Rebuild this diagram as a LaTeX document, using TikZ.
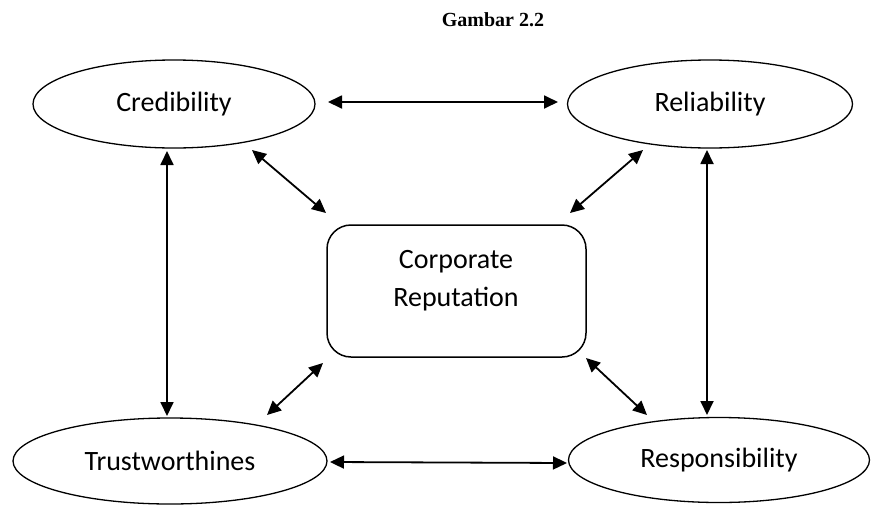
\documentclass[tikz,border=0pt]{standalone}
\usepackage{fontspec}
\setmainfont{Carlito}
\newfontfamily\titlefont{Liberation Serif}
\usetikzlibrary{shapes.geometric,arrows.meta}
\tikzset{
  oval/.style={draw, ellipse, line width=1.3pt, inner sep=0pt, font=\fontsize{28}{34}\selectfont},
  box/.style={draw, rounded corners=24pt, line width=1.5pt, inner sep=0pt},
  lbl/.style={font=\fontsize{28}{38}\selectfont, align=center},
  link/.style={line width=1.8pt, {Triangle[length=14pt,width=13pt]}-{Triangle[length=14pt,width=13pt]}},
}
\begin{document}
\begin{tikzpicture}[x=1pt,y=-1pt]
\useasboundingbox (0,0) rectangle (871,504);
\node[font=\titlefont\bfseries\fontsize{20}{24}\selectfont] (title) at (493,20) {Gambar 2.2};

\node[oval, minimum width=282pt, minimum height=88pt] (cred) at (174,104) {Credibility};
\node[oval, minimum width=285pt, minimum height=88pt] (rel) at (710,104) {Reliability};
\node[oval, minimum width=314pt, minimum height=86pt] (trust) at (170,461) {Trustworthines};
\node[oval, minimum width=301pt, minimum height=85pt] (resp) at (719,460) {Responsibility};

\node[box, minimum width=259pt, minimum height=132pt] (corp) at (456.5,291) {};
\node[lbl] (corptext) at (456,281) {Corporate\\Reputation};

% arrow end points
\coordinate (a1) at (328,102); \coordinate (a2) at (558,102);
\coordinate (b1) at (330,462); \coordinate (b2) at (567,463);
\coordinate (c1) at (167,151); \coordinate (c2) at (167,416);
\coordinate (d1) at (707,150); \coordinate (d2) at (707,415);
\coordinate (e1) at (252,150); \coordinate (e2) at (326,213);
\coordinate (f1) at (643,150); \coordinate (f2) at (570,213);
\coordinate (g1) at (323,363); \coordinate (g2) at (267,415);
\coordinate (h1) at (586,358); \coordinate (h2) at (647,415);

\draw[link] (a1) -- (a2);
\draw[link] (b1) -- (b2);
\draw[link] (c1) -- (c2);
\draw[link] (d1) -- (d2);
\draw[link] (e1) -- (e2);
\draw[link] (f1) -- (f2);
\draw[link] (g1) -- (g2);
\draw[link] (h1) -- (h2);
\end{tikzpicture}
\end{document}
